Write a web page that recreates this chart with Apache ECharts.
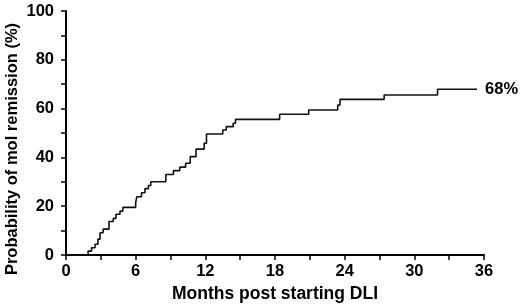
<!DOCTYPE html>
<html>
<head>
<meta charset="utf-8">
<script src="https://cdn.jsdelivr.net/npm/echarts@6/dist/echarts.min.js"></script>
<style>
  html, body { margin: 0; padding: 0; background: #fff; }
  #chart { width: 520px; height: 304px; }
</style>
</head>
<body>
<div id="chart"></div>
<script>
  // step times (months) and cumulative probability (%)
  const months = [0, 1.9, 2.2, 2.5, 2.75, 2.93, 3.2, 3.7, 4.07, 4.3, 4.65, 4.9,
    6.0, 6.1, 6.5, 6.8, 7.1, 7.3, 8.6, 9.25, 9.8, 10.3, 10.7, 11.2, 11.9, 12.1,
    13.5, 13.8, 14.4, 14.6, 18.4, 20.9, 23.4, 23.6, 27.4, 32.0, 35.4]
  const remission = [0, 1.6, 3.0, 4.4, 6.5, 9.1, 10.6, 13.7, 15.0, 16.7, 18.0, 19.5,
    21.5, 23.9, 25.5, 27.2, 28.5, 30.0, 33.0, 34.6, 36.0, 37.6, 40.3, 43.4, 45.8, 49.6,
    51.2, 52.6, 54.0, 55.6, 57.7, 59.4, 61.5, 63.8, 65.6, 67.9, 67.9]
  const finalLabel = '68%'

  const chart = echarts.init(document.getElementById('chart'))
  const font = 'Liberation Sans, Arial, sans-serif'

  chart.setOption({
    backgroundColor: '#fff',
    animation: false,
    grid: { left: 66, right: 36, top: 11, bottom: 49, containLabel: false, outerBoundsMode: 'none' },
    xAxis: {
      type: 'value',
      min: 0,
      max: 36,
      interval: 3,
      name: 'Months post starting DLI',
      nameLocation: 'middle',
      nameGap: 30,
      nameMoveOverlap: false,
      nameTextStyle: { fontFamily: font, fontWeight: 'bold', fontSize: 17.5, color: '#000' },
      axisLine: { lineStyle: { color: '#000', width: 2 } },
      axisTick: { show: true, length: 5, lineStyle: { color: '#000', width: 1.5 } },
      axisLabel: {
        margin: 8,
        fontFamily: font, fontWeight: 'bold', fontSize: 16.5, color: '#000',
        formatter: v => (v % 6 === 0 ? String(v) : '')
      },
      splitLine: { show: false }
    },
    yAxis: {
      type: 'value',
      min: 0,
      max: 100,
      interval: 10,
      name: 'Probability of mol remission (%)',
      nameLocation: 'middle',
      nameGap: 45,
      nameMoveOverlap: false,
      nameTextStyle: {
        fontFamily: font, fontWeight: 'bold', fontSize: 16.5, color: '#000',
        padding: [0, 32, 0, 0]
      },
      axisLine: { show: true, lineStyle: { color: '#000', width: 2 } },
      axisTick: { show: true, length: 5, lineStyle: { color: '#000', width: 1.5 } },
      axisLabel: {
        margin: 12,
        fontFamily: font, fontWeight: 'bold', fontSize: 16.5, color: '#000',
        formatter: v => (v % 20 === 0 ? String(v) : '')
      },
      splitLine: { show: false }
    },
    series: [
      {
        type: 'line',
        step: 'end',
        data: months.map((m, i) => [m, remission[i]]),
        showSymbol: false,
        lineStyle: { color: '#111', width: 1.6 },
        endLabel: {
          show: true,
          formatter: finalLabel,
          distance: 8,
          fontFamily: font, fontWeight: 'bold', fontSize: 16.5, color: '#000'
        }
      }
    ]
  })
</script>
</body>
</html>
